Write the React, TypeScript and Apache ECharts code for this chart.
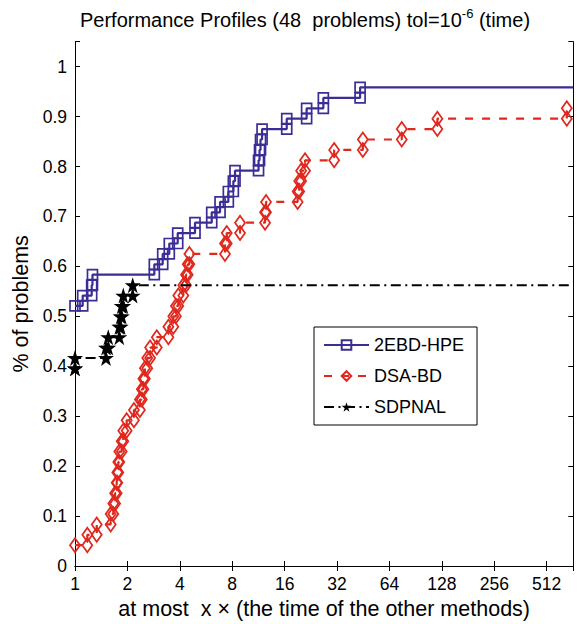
import React, { useEffect, useRef } from "react";
import * as echarts from "echarts";

// ---------------- data ----------------
const N_PROBLEMS = 48;
const X_MIN = 1;
const X_MAX = 728;
const xTickValues = [1, 2, 4, 8, 16, 32, 64, 128, 256, 512];
const yTickValues = [0, 0.1, 0.2, 0.3, 0.4, 0.5, 0.6, 0.7, 0.8, 0.9, 1];
const Y_MAX = 1.05;

const seriesNames = ["2EBD-HPE", "DSA-BD", "SDPNAL"];

// performance ratio at which the count of solved problems rises, and the new count
const hpeRatios = [1, 1.107, 1.247, 1.26, 2.855, 3.19, 3.48, 3.89, 4.89, 6.1, 6.81, 7.6, 8.12, 8.3, 11.33, 11.48, 11.63, 11.87, 16.45, 21.4, 26.7, 43.4];
const hpeCounts = [25, 26, 27, 28, 29, 30, 31, 32, 33, 34, 35, 36, 37, 38, 39, 40, 41, 42, 43, 44, 45, 46];

const dsaRatios = [1, 1.177, 1.333, 1.603, 1.66, 1.7, 1.736, 1.75, 1.773, 1.797, 1.855, 1.894, 1.98, 2.18, 2.36, 2.42, 2.47, 2.52, 2.6, 2.7, 2.95, 3.44, 3.67, 3.8, 3.92, 4.19, 4.34, 4.44, 4.54, 7.27, 7.44, 8.87, 12.35, 12.51, 19.0, 19.4, 19.9, 20.96, 30.8, 45.0, 75.3, 120.6, 668];
const dsaCounts = [2, 3, 4, 5, 6, 7, 8, 9, 10, 11, 12, 13, 14, 15, 16, 17, 18, 19, 20, 21, 22, 23, 24, 25, 26, 27, 28, 29, 30, 31, 32, 33, 34, 35, 36, 37, 38, 39, 40, 41, 42, 43, 44];

const sdpRatios = [1, 1, 1.507, 1.553, 1.797, 1.83, 1.855, 1.894, 2.145];
const sdpCounts = [19, 20, 21, 22, 23, 24, 25, 26, 27];

// ---------------- helpers ----------------
function stairs(ratios: number[], counts: number[]) {
  const pts: any[] = [];
  for (let i = 0; i < ratios.length; i++) {
    const y = counts[i] / N_PROBLEMS;
    pts.push([ratios[i], y]);
    if (i + 1 < ratios.length) pts.push([ratios[i + 1], y]);
    else pts.push({ value: [X_MAX, y], symbol: "none" });
  }
  return pts;
}

const FONT = "Liberation Sans, Arial, Helvetica, sans-serif";
const BLUE = "#3a2d96";
const RED = "#e0281e";
const BLACK = "#000000";
const STAR = "path://M50,0 L61.2,34.5 L97.6,34.5 L68.2,55.9 L79.4,90.5 L50,69.1 L20.6,90.5 L31.8,55.9 L2.4,34.5 L38.8,34.5 Z";

function isOn(v: number, list: number[]) {
  return list.some((t) => Math.abs(t - v) < 1e-6 * Math.max(1, t));
}

export default function App() {
  const ref = useRef<HTMLDivElement>(null);
  useEffect(() => {
    if (!ref.current) return;
    const chart = echarts.init(ref.current, undefined, { renderer: "svg" });
    const axisCommon = {
      axisLine: { show: true, lineStyle: { color: "#000", width: 1 } },
      axisTick: { show: true, inside: true, length: 5, lineStyle: { color: "#000", width: 1 } },
      splitLine: { show: false },
    };
    chart.setOption({
      animation: false,
      backgroundColor: "#fff",
      title: {
        text: "{a|Performance Profiles (48  problems) tol=10}{s|-6}{a| (time)}",
        left: 80,
        top: 7,
        padding: 0,
        textStyle: {
          fontWeight: "normal",
          rich: {
            a: { fontSize: 20, fontFamily: FONT, fontWeight: "normal", color: "#000", lineHeight: 26 },
            s: { fontSize: 13, fontFamily: FONT, fontWeight: "normal", color: "#000", lineHeight: 14, verticalAlign: "top" },
          },
        },
      },
      legend: {
        orient: "vertical",
        left: 314,
        top: 327,
        padding: [9, 13, 9, 9],
        itemWidth: 45,
        itemHeight: 12,
        itemGap: 13,
        borderColor: "#000",
        borderWidth: 1,
        backgroundColor: "#fff",
        textStyle: { fontSize: 18, fontFamily: FONT, color: "#000" },
        data: seriesNames,
      },
      grid: { left: 75, right: 6.7, top: 41.7, bottom: 58, outerBoundsMode: "none" },
      xAxis: [
        {
          type: "log",
          logBase: 2,
          min: X_MIN,
          max: X_MAX,
          splitNumber: 10,
          ...axisCommon,
          axisLabel: {
            margin: 9,
            fontSize: 17.5,
            fontFamily: FONT,
            color: "#000",
            formatter: (v: number) => (isOn(v, xTickValues) ? String(Math.round(v)) : ""),
          },
          name: "at most  x × (the time of the other methods)",
          nameLocation: "middle",
          nameGap: 32,
          nameTextStyle: { fontSize: 21.5, fontFamily: FONT, color: "#000" },
        },
        {
          type: "log",
          logBase: 2,
          min: X_MIN,
          max: X_MAX,
          splitNumber: 10,
          position: "top",
          ...axisCommon,
          axisLabel: { show: false },
        },
      ],
      yAxis: [
        {
          type: "value",
          min: 0,
          max: Y_MAX,
          interval: 0.1,
          ...axisCommon,
          axisLabel: {
            margin: 8,
            fontSize: 17.5,
            fontFamily: FONT,
            color: "#000",
            formatter: (v: number) => {
              if (!isOn(v, yTickValues)) return "";
              const r = Math.round(v * 10) / 10;
              return r === 0 ? "0" : r === 1 ? "1" : r.toFixed(1);
            },
          },
          name: "% of problems",
          nameLocation: "middle",
          nameRotate: 90,
          nameGap: 43,
          nameTextStyle: { fontSize: 21.5, fontFamily: FONT, color: "#000" },
        },
        {
          type: "value",
          min: 0,
          max: Y_MAX,
          interval: 0.1,
          position: "right",
          ...axisCommon,
          axisLabel: { show: false },
        },
      ],
      series: [
        {
          name: seriesNames[0],
          type: "line",
          data: stairs(hpeRatios, hpeCounts),
          symbol: "rect",
          symbolSize: 10,
          lineStyle: { color: BLUE, width: 2.2, type: "solid" },
          itemStyle: { color: "rgba(255,255,255,0)", borderColor: BLUE, borderWidth: 1.7 },
          z: 3,
        },
        {
          name: seriesNames[1],
          type: "line",
          data: stairs(dsaRatios, dsaCounts),
          symbol: "diamond",
          symbolSize: [10, 14],
          lineStyle: { color: RED, width: 2.2, type: [8, 9] },
          itemStyle: { color: "rgba(255,255,255,0)", borderColor: RED, borderWidth: 1.8 },
          z: 2,
        },
        {
          name: seriesNames[2],
          type: "line",
          data: stairs(sdpRatios, sdpCounts),
          symbol: STAR,
          symbolSize: 16,
          lineStyle: { color: BLACK, width: 2, type: [10, 4.5, 2, 4.5] },
          itemStyle: { color: BLACK, borderColor: BLACK, borderWidth: 0 },
          z: 4,
        },
      ],
    });
    return () => chart.dispose();
  }, []);
  return (
    <div
      ref={ref}
      style={{ position: "fixed", left: 0, top: 0, width: 580, height: 624, background: "#fff" }}
    />
  );
}
